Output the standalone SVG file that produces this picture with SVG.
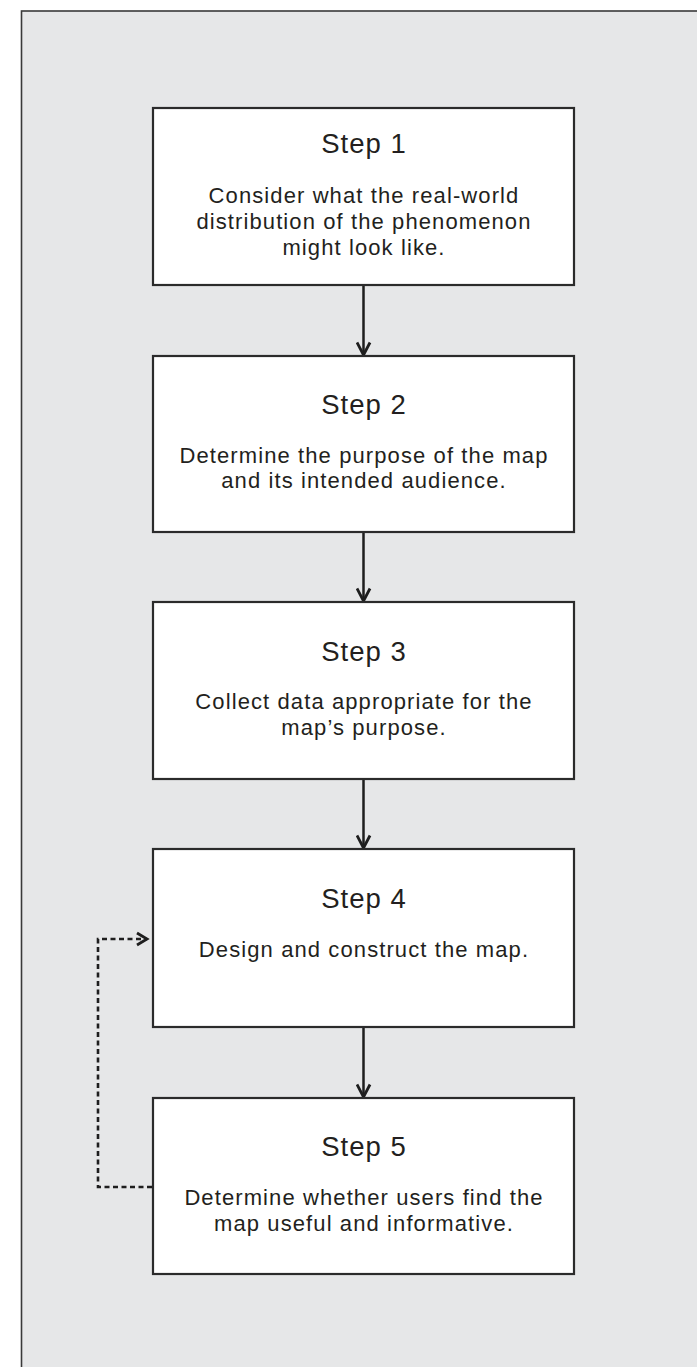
<svg xmlns="http://www.w3.org/2000/svg" width="697" height="1367" viewBox="0 0 697 1367">
  <style>
    .frame { fill: #e6e7e8; stroke: #3a3a3a; stroke-width: 1.6; }
    .box { fill: #ffffff; stroke: #2b2b2b; stroke-width: 2.2; }
    .title { font-family: "Liberation Sans", Arial, sans-serif; font-size: 27.5px; letter-spacing: 1px; fill: #231f20; text-anchor: middle; }
    .body { font-family: "Liberation Sans", Arial, sans-serif; font-size: 22px; letter-spacing: 1.1px; fill: #231f20; text-anchor: middle; }
    .flow { fill: none; stroke: #1e1e1e; stroke-width: 2.5; }
    .loop { fill: none; stroke: #1e1e1e; stroke-width: 2.6; stroke-dasharray: 5 3.5; }
  </style>
  <defs>
    <marker id="arrow" markerUnits="userSpaceOnUse" viewBox="0 0 16 16" refX="14" refY="8" markerWidth="16" markerHeight="16" orient="auto">
      <path d="M1.5,1.5 L14,8 L1.5,14.5" fill="none" stroke="#1e1e1e" stroke-width="2.8" stroke-dasharray="none"/>
    </marker>
    <marker id="arrow-small" markerUnits="userSpaceOnUse" viewBox="0 0 16 16" refX="13" refY="8" markerWidth="16" markerHeight="16" orient="auto">
      <path d="M3,2 L13,8 L3,14" fill="none" stroke="#1e1e1e" stroke-width="2.8" stroke-dasharray="none"/>
    </marker>
  </defs>

  <rect width="697" height="1367" fill="#ffffff"/>
  <rect class="frame" x="21.5" y="11" width="700" height="1380"/>

  <g id="connectors">
    <line class="flow" x1="363.5" y1="286" x2="363.5" y2="355" marker-end="url(#arrow)"/>
    <line class="flow" x1="363.5" y1="533" x2="363.5" y2="601" marker-end="url(#arrow)"/>
    <line class="flow" x1="363.5" y1="780" x2="363.5" y2="848" marker-end="url(#arrow)"/>
    <line class="flow" x1="363.5" y1="1028" x2="363.5" y2="1097" marker-end="url(#arrow)"/>
    <path class="loop" d="M152,1187 H98 V939 H147" marker-end="url(#arrow-small)"/>
  </g>

  <g id="step1">
    <rect class="box" x="153" y="108" width="421" height="177"/>
    <text class="title" x="364" y="153">Step 1</text>
    <text class="body" x="364" y="203">Consider what the real-world</text>
    <text class="body" x="364" y="229">distribution of the phenomenon</text>
    <text class="body" x="364" y="254.5">might look like.</text>
  </g>

  <g id="step2">
    <rect class="box" x="153" y="356" width="421" height="176"/>
    <text class="title" x="364" y="414">Step 2</text>
    <text class="body" x="364" y="462.5">Determine the purpose of the map</text>
    <text class="body" x="364" y="488">and its intended audience.</text>
  </g>

  <g id="step3">
    <rect class="box" x="153" y="602" width="421" height="177"/>
    <text class="title" x="364" y="661">Step 3</text>
    <text class="body" x="364" y="709">Collect data appropriate for the</text>
    <text class="body" x="364" y="735">map’s purpose.</text>
  </g>

  <g id="step4">
    <rect class="box" x="153" y="849" width="421" height="178"/>
    <text class="title" x="364" y="907.5">Step 4</text>
    <text class="body" x="364" y="956.5">Design and construct the map.</text>
  </g>

  <g id="step5">
    <rect class="box" x="153" y="1098" width="421" height="176"/>
    <text class="title" x="364" y="1156">Step 5</text>
    <text class="body" x="364" y="1205">Determine whether users find the</text>
    <text class="body" x="364" y="1230.5">map useful and informative.</text>
  </g>
</svg>
